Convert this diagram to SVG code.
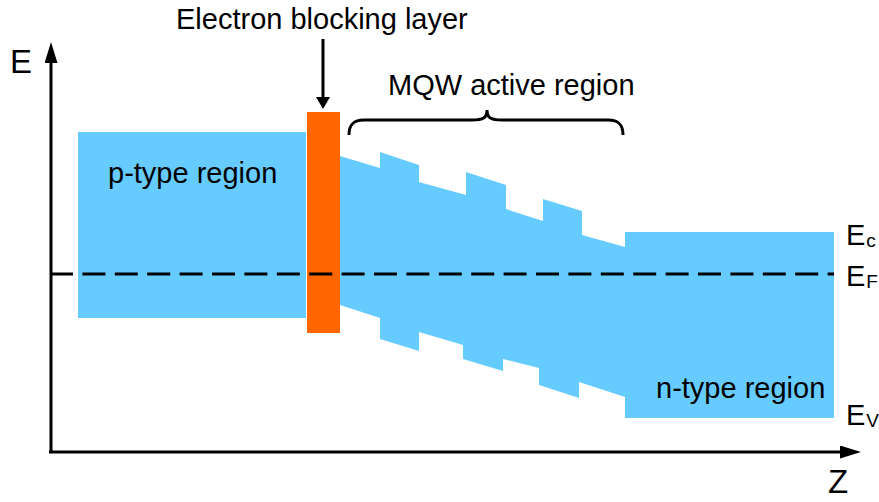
<svg xmlns="http://www.w3.org/2000/svg" width="879" height="502" viewBox="0 0 879 502">
<defs>
<style>
text{font-family:"Liberation Sans",Arial,sans-serif;fill:#000}
.lbl{font-size:29px}
.ax{font-size:33px}
.sub{font-size:19px}
.band{fill:#66CCFF}
.line{stroke:#000;stroke-width:3;fill:none}
</style>
<marker id="ahead" markerUnits="userSpaceOnUse" markerWidth="21" markerHeight="13" refX="0" refY="6.5" orient="auto">
<path d="M0,0 L21,6.5 L0,13 Z" fill="#000"/>
</marker>
<marker id="ahead2" markerUnits="userSpaceOnUse" markerWidth="12" markerHeight="14" refX="0" refY="7" orient="auto">
<path d="M0,0 L12,7 L0,14 Z" fill="#000"/>
</marker>
</defs>
<g id="p-region">
<rect class="band" x="78" y="132" width="228" height="186"/>
<text class="lbl" x="108" y="183">p-type region</text>
</g>
<g id="mqw-n-region">
<polygon class="band" points="340,156 380,168 380,152 419,165 419,182 466,195 466,172 506,185 506,209 543,221 543,199 582,211 582,235 625,247 625,232 834,232 834,418 625,418 625,397 579,382 579,398 539,385 539,368 503,359 503,371 463,359 463,345 419,332 419,351 380,339 380,318 340,305"/>
<text class="lbl" x="656" y="398">n-type region</text>
</g>
<g id="ebl">
<rect x="307" y="112" width="33" height="221" fill="#FF6600"/>
</g>
<g id="labels">
<text class="lbl" x="176" y="29">Electron blocking layer</text>
<text class="lbl" x="388" y="95">MQW active region</text>
<text class="lbl" x="846" y="245">E<tspan class="sub" dx="1" dy="2">c</tspan></text>
<text class="lbl" x="846" y="286">E<tspan class="sub" dx="1" dy="2">F</tspan></text>
<text class="lbl" x="846" y="425">E<tspan class="sub" dx="1" dy="2">V</tspan></text>
<text class="ax" x="10" y="73">E</text>
<text class="ax" x="828" y="493">Z</text>
</g>
<g id="connectors">
<line class="line" x1="50" y1="274" x2="834" y2="274" stroke-dasharray="23,9.4"/>
<line class="line" x1="51" y1="453" x2="51" y2="63" marker-end="url(#ahead)"/>
<line class="line" x1="49" y1="452" x2="840" y2="452" marker-end="url(#ahead)"/>
<line class="line" x1="323" y1="39" x2="323" y2="97" marker-end="url(#ahead2)"/>
<path class="line" d="M349,135 C349,125 353,120 364,120 L472,120 C483,120 487,118 487,110 C487,118 491,120 502,120 L608,120 C619,120 623,125 623,135"/>
</g>
</svg>
